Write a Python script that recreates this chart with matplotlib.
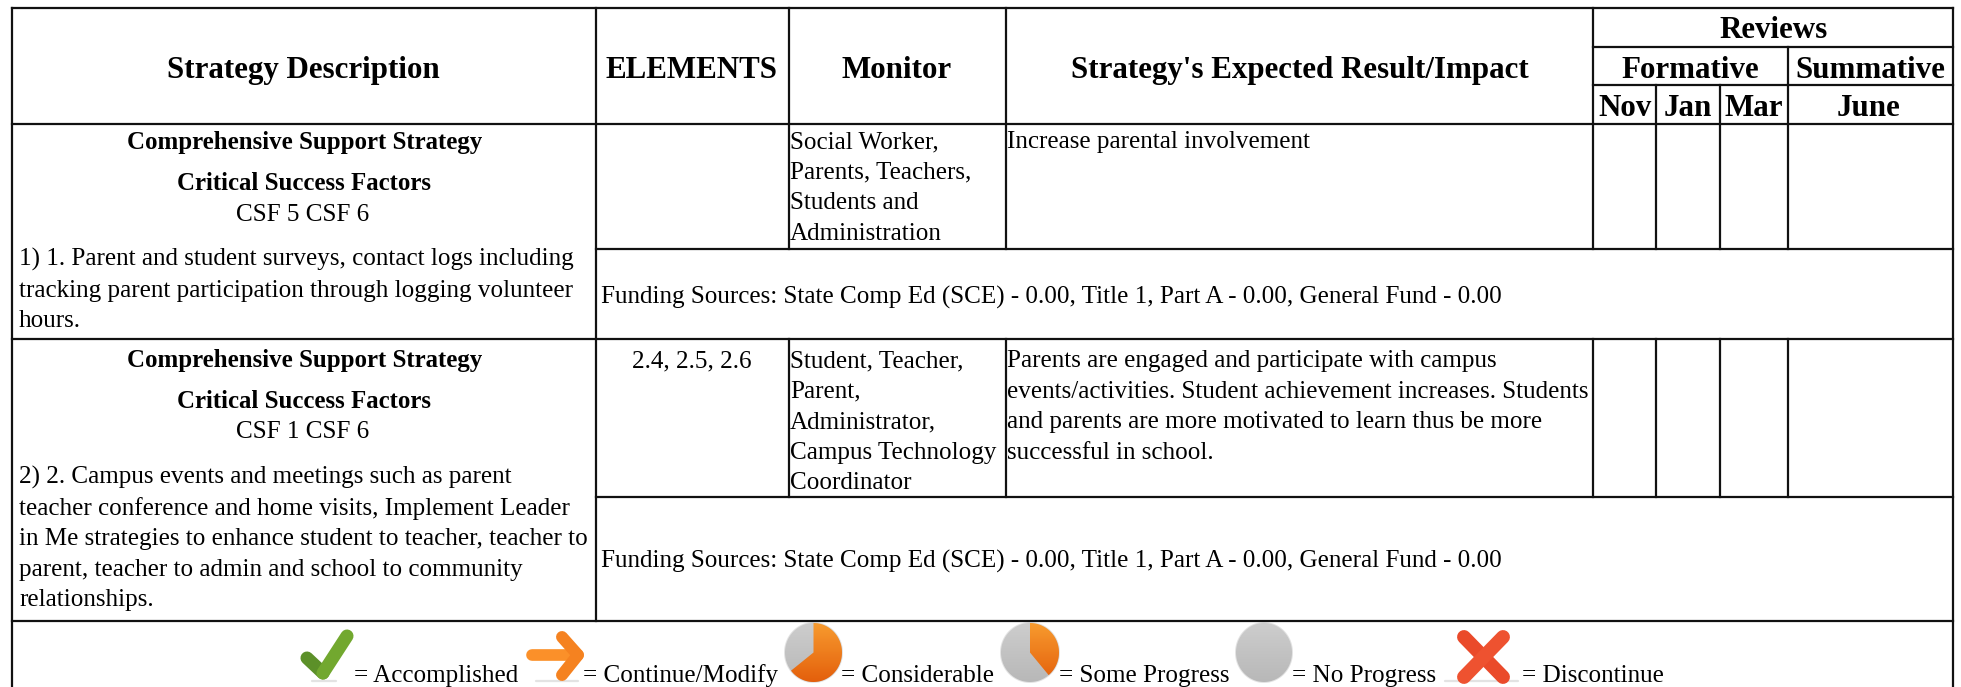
import numpy as np
import matplotlib
matplotlib.use("Agg")
import matplotlib.pyplot as plt
from matplotlib.colors import LinearSegmentedColormap
from matplotlib.patches import Polygon

plt.rcParams["font.family"] = ["Liberation Serif", "DejaVu Serif"]

# table texts
main_headers = ["Strategy Description", "ELEMENTS", "Monitor", "Strategy's Expected Result/Impact"]
months = ["Nov", "Jan", "Mar", "June"]
strategy_title = "Comprehensive Support Strategy"
csf_title = "Critical Success Factors"
csf_values = ["CSF 5 CSF 6", "CSF 1 CSF 6"]
desc_1 = ["1) 1. Parent and student surveys, contact logs including",
          "tracking parent participation through logging volunteer",
          "hours."]
desc_2 = ["2) 2. Campus events and meetings such as parent",
          "teacher conference and home visits, Implement Leader",
          "in Me strategies to enhance student to teacher, teacher to",
          "parent, teacher to admin and school to community",
          "relationships."]
elements = ["", "2.4, 2.5, 2.6"]
monitor_1 = ["Social Worker,", "Parents, Teachers,", "Students and", "Administration"]
monitor_2 = ["Student, Teacher,", "Parent,", "Administrator,", "Campus Technology", "Coordinator"]
impact_1 = ["Increase parental involvement"]
impact_2 = ["Parents are engaged and participate with campus",
            "events/activities. Student achievement increases. Students",
            "and parents are more motivated to learn thus be more",
            "successful in school."]
funding = "Funding Sources: State Comp Ed (SCE) - 0.00, Title 1, Part A - 0.00, General Fund - 0.00"
legend_labels = ["= Accomplished", "= Continue/Modify", "= Considerable",
                 "= Some Progress", "= No Progress", "= Discontinue"]
# share of the pie icons that is orange, in degrees
pie_orange = [232, 140]

BODY = 18.07
BOLD = 17.95
HEAD = 22.3
LINE = "#111111"

fig = plt.figure(figsize=(19.61, 6.87), dpi=100)
ax = fig.add_axes([0, 0, 1, 1])
ax.set_xlim(0, 1961)
ax.set_ylim(687, 0)
ax.axis("off")


def hline(y, x0, x1):
    ax.plot([x0, x1], [y, y], color=LINE, lw=1.6, solid_capstyle="projecting", zorder=3)


def vline(x, y0, y1):
    ax.plot([x, x], [y0, y1], color=LINE, lw=1.6, solid_capstyle="projecting", zorder=3)


def put(x, y, s, size=BODY, bold=False, ha="left"):
    ax.text(x, y + 1, s, fontsize=size, fontweight="bold" if bold else "normal",
            ha=ha, va="baseline", color="black")


def lines(x, y, rows, step=30.6):
    for i, row in enumerate(rows):
        put(x, y + i * step, row)


def gradient(patch, box, top, bottom):
    # box is x0, x1, y0, y1 in pixels
    cmap = LinearSegmentedColormap.from_list("g", [top, bottom])
    ax.add_patch(patch)
    patch.set_facecolor("none")
    patch.set_edgecolor("none")
    im = ax.imshow(np.linspace(0, 1, 64).reshape(-1, 1), cmap=cmap, aspect="auto",
                   extent=[box[0], box[1], box[3], box[2]], zorder=2)
    im.set_clip_path(patch)


def pie_icon(x0, x1, y0, y1, orange):
    cx, cy = (x0 + x1) / 2, (y0 + y1) / 2
    rx, ry = (x1 - x0) / 2, (y1 - y0) / 2
    t = np.linspace(0, 2 * np.pi, 120)
    # soft edge
    ax.add_patch(Polygon(np.c_[cx + (rx + 1) * np.sin(t), cy - (ry + 1) * np.cos(t)],
                         facecolor="#d8d8d8", edgecolor="none", alpha=0.7, zorder=1))
    gradient(Polygon(np.c_[cx + rx * np.sin(t), cy - ry * np.cos(t)]),
             (x0, x1, y0, y1), "#cdcdcd", "#b8b8b8")
    if orange:
        t = np.radians(np.linspace(0, orange, 80))
        pts = np.vstack([[cx, cy], np.c_[cx + rx * np.sin(t), cy - ry * np.cos(t)]])
        gradient(Polygon(pts), (x0, x1, y0, y1), "#f79a2e", "#e4600c")


def stroke(xs, ys, color, width):
    ax.plot(xs, ys, color=color, lw=width, solid_capstyle="round", solid_joinstyle="round", zorder=2)


def shadow(x0, x1, y):
    ax.plot([x0, x1], [y, y], color="#c8c8c8", lw=1.6, alpha=0.5, solid_capstyle="round", zorder=1)


# grid lines
L, R, T = 12, 1953, 8
col_x = [596, 789, 1006, 1593]
rev_x = [1656, 1720, 1788]
head_b, r1_mid, r1_b, r2_mid, r2_b = 124, 249, 339, 497, 621

hline(T, L, R)
hline(head_b, L, R)
hline(r1_b, L, R)
hline(r2_b, L, R)
hline(r1_mid, col_x[0], R)
hline(r2_mid, col_x[0], R)
hline(47, col_x[3], R)
hline(85, col_x[3], R)
vline(L, T, 687)
vline(R, T, 687)
vline(col_x[0], T, r2_b)
for x in col_x[1:3]:
    vline(x, T, r1_mid)
    vline(x, r1_b, r2_mid)
vline(col_x[3], T, r1_mid)
vline(col_x[3], r1_b, r2_mid)
for x in rev_x:
    vline(x, 85, r1_mid)
    vline(x, r1_b, r2_mid)
vline(rev_x[2], 47, 85)

# header
for x, s in zip([303, 692, 897, 1300], main_headers):
    put(x, 77, s, HEAD, True, "center")
put(1774, 37, "Reviews", HEAD, True, "center")
put(1690, 77, "Formative", HEAD, True, "center")
put(1870, 77, "Summative", HEAD, True, "center")
for x, s in zip([1625, 1688, 1754, 1869], months):
    put(x, 115, s, HEAD, True, "center")

# row 1
put(304.5, 148, strategy_title, BOLD, True, "center")
put(304, 189, csf_title, BOLD, True, "center")
put(303, 220, csf_values[0], BODY, False, "center")
lines(19, 265, desc_1)
lines(790, 147, monitor_1)
lines(1007, 147, impact_1)
put(601, 303, funding)

# row 2
put(304.5, 366, strategy_title, BOLD, True, "center")
put(304, 407, csf_title, BOLD, True, "center")
put(303, 437, csf_values[1], BODY, False, "center")
lines(19, 483, desc_2)
put(692, 366, elements[1], BODY, False, "center")
lines(790, 366, monitor_2)
lines(1007, 366, impact_2)
put(601, 567, funding)

# legend icons
shadow(312, 336, 681)
stroke([307, 323], [658, 673], "#5c9029", 9.4)
stroke([323, 347], [673, 636], "#72a82f", 9.4)
shadow(536, 578, 681)
stroke([532, 578], [655, 655], "#fb9029", 8.4)
stroke([562, 578, 562], [637, 655, 675], "#f58220", 8.6)
pie_icon(785, 842, 623, 682, pie_orange[0])
pie_icon(1001, 1059, 623, 682, pie_orange[1])
pie_icon(1236, 1292, 623, 682, 0)
shadow(1445, 1518, 681)
stroke([1464, 1503], [637, 677], "#ea4a2a", 10)
stroke([1503, 1464], [637, 677], "#ee5230", 10)
ax.set_xlim(0, 1961)
ax.set_ylim(687, 0)

for x, s in zip([354, 583, 841, 1059, 1292, 1522], legend_labels):
    put(x, 681, s)

fig.savefig("out.png", dpi=100)
